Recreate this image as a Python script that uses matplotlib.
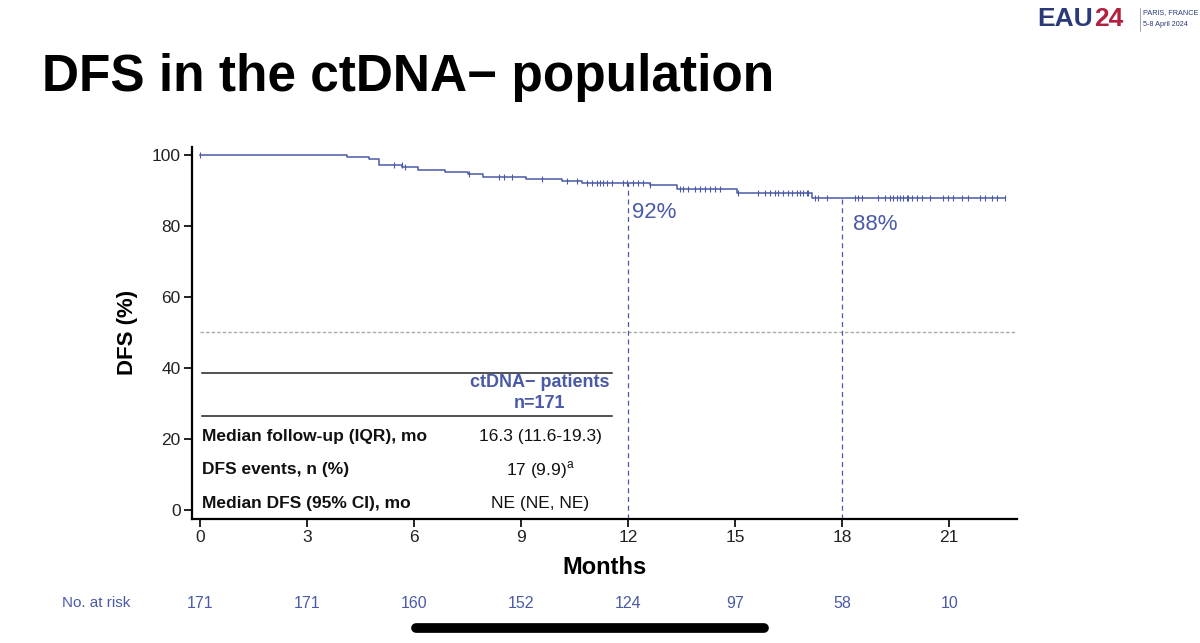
import numpy as np
import matplotlib
matplotlib.use("Agg")
import matplotlib.pyplot as plt
from matplotlib.lines import Line2D

plt.rcParams['font.family'] = ['Liberation Sans', 'DejaVu Sans']

# ---------------- data ----------------
step_months = [0, 4.13, 4.73, 5.01, 5.67, 6.12, 6.88, 7.52, 7.93, 9.15, 10.15,
               10.71, 12.6, 13.37, 15.05, 17.15]
step_dfs = [100, 99.4, 98.8, 97.2, 96.5, 95.8, 95.1, 94.6, 93.9, 93.2, 92.7,
            92.0, 91.4, 90.4, 89.4, 88.0]
end_month = 22.56
censor_months = [0.0, 5.43, 5.65, 5.76, 7.53, 8.37, 8.51, 8.75, 9.59, 10.29, 10.57,
                 10.85, 10.99, 11.13, 11.22, 11.31, 11.41, 11.55, 11.87, 11.97,
                 12.15, 12.29, 12.43, 12.62, 13.46, 13.55, 13.69, 13.88, 14.02,
                 14.16, 14.30, 14.44, 14.58, 15.09, 15.65, 15.84, 15.98, 16.12,
                 16.21, 16.35, 16.49, 16.59, 16.73, 16.82, 16.91, 17.01, 17.05,
                 17.24, 17.33, 17.57, 18.36, 18.45, 18.55, 19.01, 19.20, 19.34,
                 19.43, 19.53, 19.62, 19.71, 19.81, 19.85, 19.95, 20.09, 20.23,
                 20.46, 20.83, 20.97, 21.11, 21.35, 21.53, 21.86, 22.00, 22.19,
                 22.33, 22.56]
landmark_months = [12, 18]
landmark_dfs = [92, 88]
landmark_labels = ["92%", "88%"]
median_line = 50

x_ticks = [0, 3, 6, 9, 12, 15, 18, 21]
y_ticks = [0, 20, 40, 60, 80, 100]
at_risk = [171, 171, 160, 152, 124, 97, 58, 10]

table_header = ["ctDNA\u2212 patients", "n=171"]
table_rows = ["Median follow-up (IQR), mo", "DFS events, n (%)", "Median DFS (95% CI), mo"]
table_values = ["16.3 (11.6-19.3)", "17 (9.9)$^{\\mathregular{a}}$", "NE (NE, NE)"]

BLUE = "#4a5aa6"
NAVY = "#2a3a78"
RED = "#b22240"

# ---------------- figure ----------------
fig = plt.figure(figsize=(12, 6.43), dpi=100)
fig.patch.set_facecolor("white")

W, H = 1200, 643
def fx(px):
    return px / W
def fy(py):
    return 1 - py / H

ax = fig.add_axes([fx(191.7), fy(519), fx(1016.7) - fx(191.7), fy(146.7) - fy(519)])
ax.set_xlim(-0.23, 22.89)
ax.set_ylim(-2.5, 102.3)

# KM curve
xs = list(step_months) + [end_month]
ys = list(step_dfs) + [step_dfs[-1]]
ax.step(xs, ys, where="post", color=BLUE, lw=1.1, zorder=3)
idx = np.searchsorted(np.array(step_months), np.array(censor_months), side="right") - 1
cy = np.array(step_dfs)[idx]
ax.plot(censor_months, cy, ls="none", marker="|", ms=5, mew=0.8, color=BLUE, zorder=3)

# median line
ax.axhline(median_line, color="#aaaaaa", lw=1.0, ls=(0, (2.5, 1.5)), xmin=0.01, zorder=1)

# landmark lines
label_dx = [0.12, 0.3]
label_dy = [-8.3, -7.7]
for m, v, lab, dx, dy in zip(landmark_months, landmark_dfs, landmark_labels, label_dx, label_dy):
    ax.plot([m, m], [-2.5, v], color=BLUE, lw=0.9, ls=(0, (4, 3)), zorder=2)
    ax.text(m + dx, v + dy, lab, color=BLUE, fontsize=16, ha="left", va="center")

# spines/ticks
for s in ["top", "right"]:
    ax.spines[s].set_visible(False)
ax.spines["left"].set_linewidth(1.6)
ax.spines["bottom"].set_linewidth(1.6)
ax.set_xticks(x_ticks)
ax.set_yticks(y_ticks)
ax.tick_params(axis="both", direction="out", length=6, width=1.4, labelsize=12.5, pad=2,
               colors="#222222")
ax.set_xlabel("Months", fontsize=17, fontweight="bold", labelpad=8)
ax.set_ylabel("DFS (%)", fontsize=16, fontweight="bold", labelpad=10)

# table
tx0, tx1 = 0.05, 11.55
ax.plot([tx0, tx1], [38.6, 38.6], color="#222222", lw=1.1)
ax.plot([tx0, tx1], [26.5, 26.5], color="#222222", lw=1.1)
vc = 9.53
ax.text(vc, 35.8, table_header[0], color=BLUE, fontsize=13, fontweight="bold", ha="center", va="center")
ax.text(vc, 30.1, table_header[1], color=BLUE, fontsize=13, fontweight="bold", ha="center", va="center")
for yv, lab, val in zip([20.8, 11.3, 2.0], table_rows, table_values):
    ax.text(0.06, yv, lab, fontsize=12.5, fontweight="bold", ha="left", va="center", color="#111111")
    ax.text(vc, yv, val, fontsize=12.5, ha="center", va="center", color="#111111")

# number at risk
fig.text(fx(96), fy(603), "No. at risk", color=BLUE, fontsize=11, ha="center", va="center")
for m, n in zip(x_ticks, at_risk):
    xf = fig.transFigure.inverted().transform(ax.transData.transform((m, 0)))[0]
    fig.text(xf, fy(603), str(n), color=BLUE, fontsize=11.5, ha="center", va="center")

# title
fig.text(fx(42), fy(77), "DFS in the ctDNA\u2212 population", fontsize=37, fontweight="bold",
         ha="left", va="center", color="black")

# logo
t1 = fig.text(fx(1037), fy(19), "EAU", fontsize=19, fontweight="bold", color=NAVY, ha="left", va="center")
fig.canvas.draw()
bb = t1.get_window_extent(fig.canvas.get_renderer())
x_end = fig.transFigure.inverted().transform((bb.x1, 0))[0]
fig.text(x_end + fx(1), fy(19), "24", fontsize=19, fontweight="bold", color=RED, ha="left", va="center")
fig.add_artist(Line2D([fx(1140), fx(1140)], [fy(8), fy(31)], color="#999999", lw=0.6))
fig.text(fx(1143), fy(13), "PARIS, FRANCE", fontsize=5.2, color=NAVY, ha="left", va="center")
fig.text(fx(1143), fy(25), "5-8 April 2024", fontsize=5.2, color=NAVY, ha="left", va="center")

# home bar
fig.add_artist(Line2D([fx(416), fx(764)], [fy(628), fy(628)], color="black", lw=7,
                      solid_capstyle="round"))

fig.savefig("out.png", dpi=100, facecolor="white")
